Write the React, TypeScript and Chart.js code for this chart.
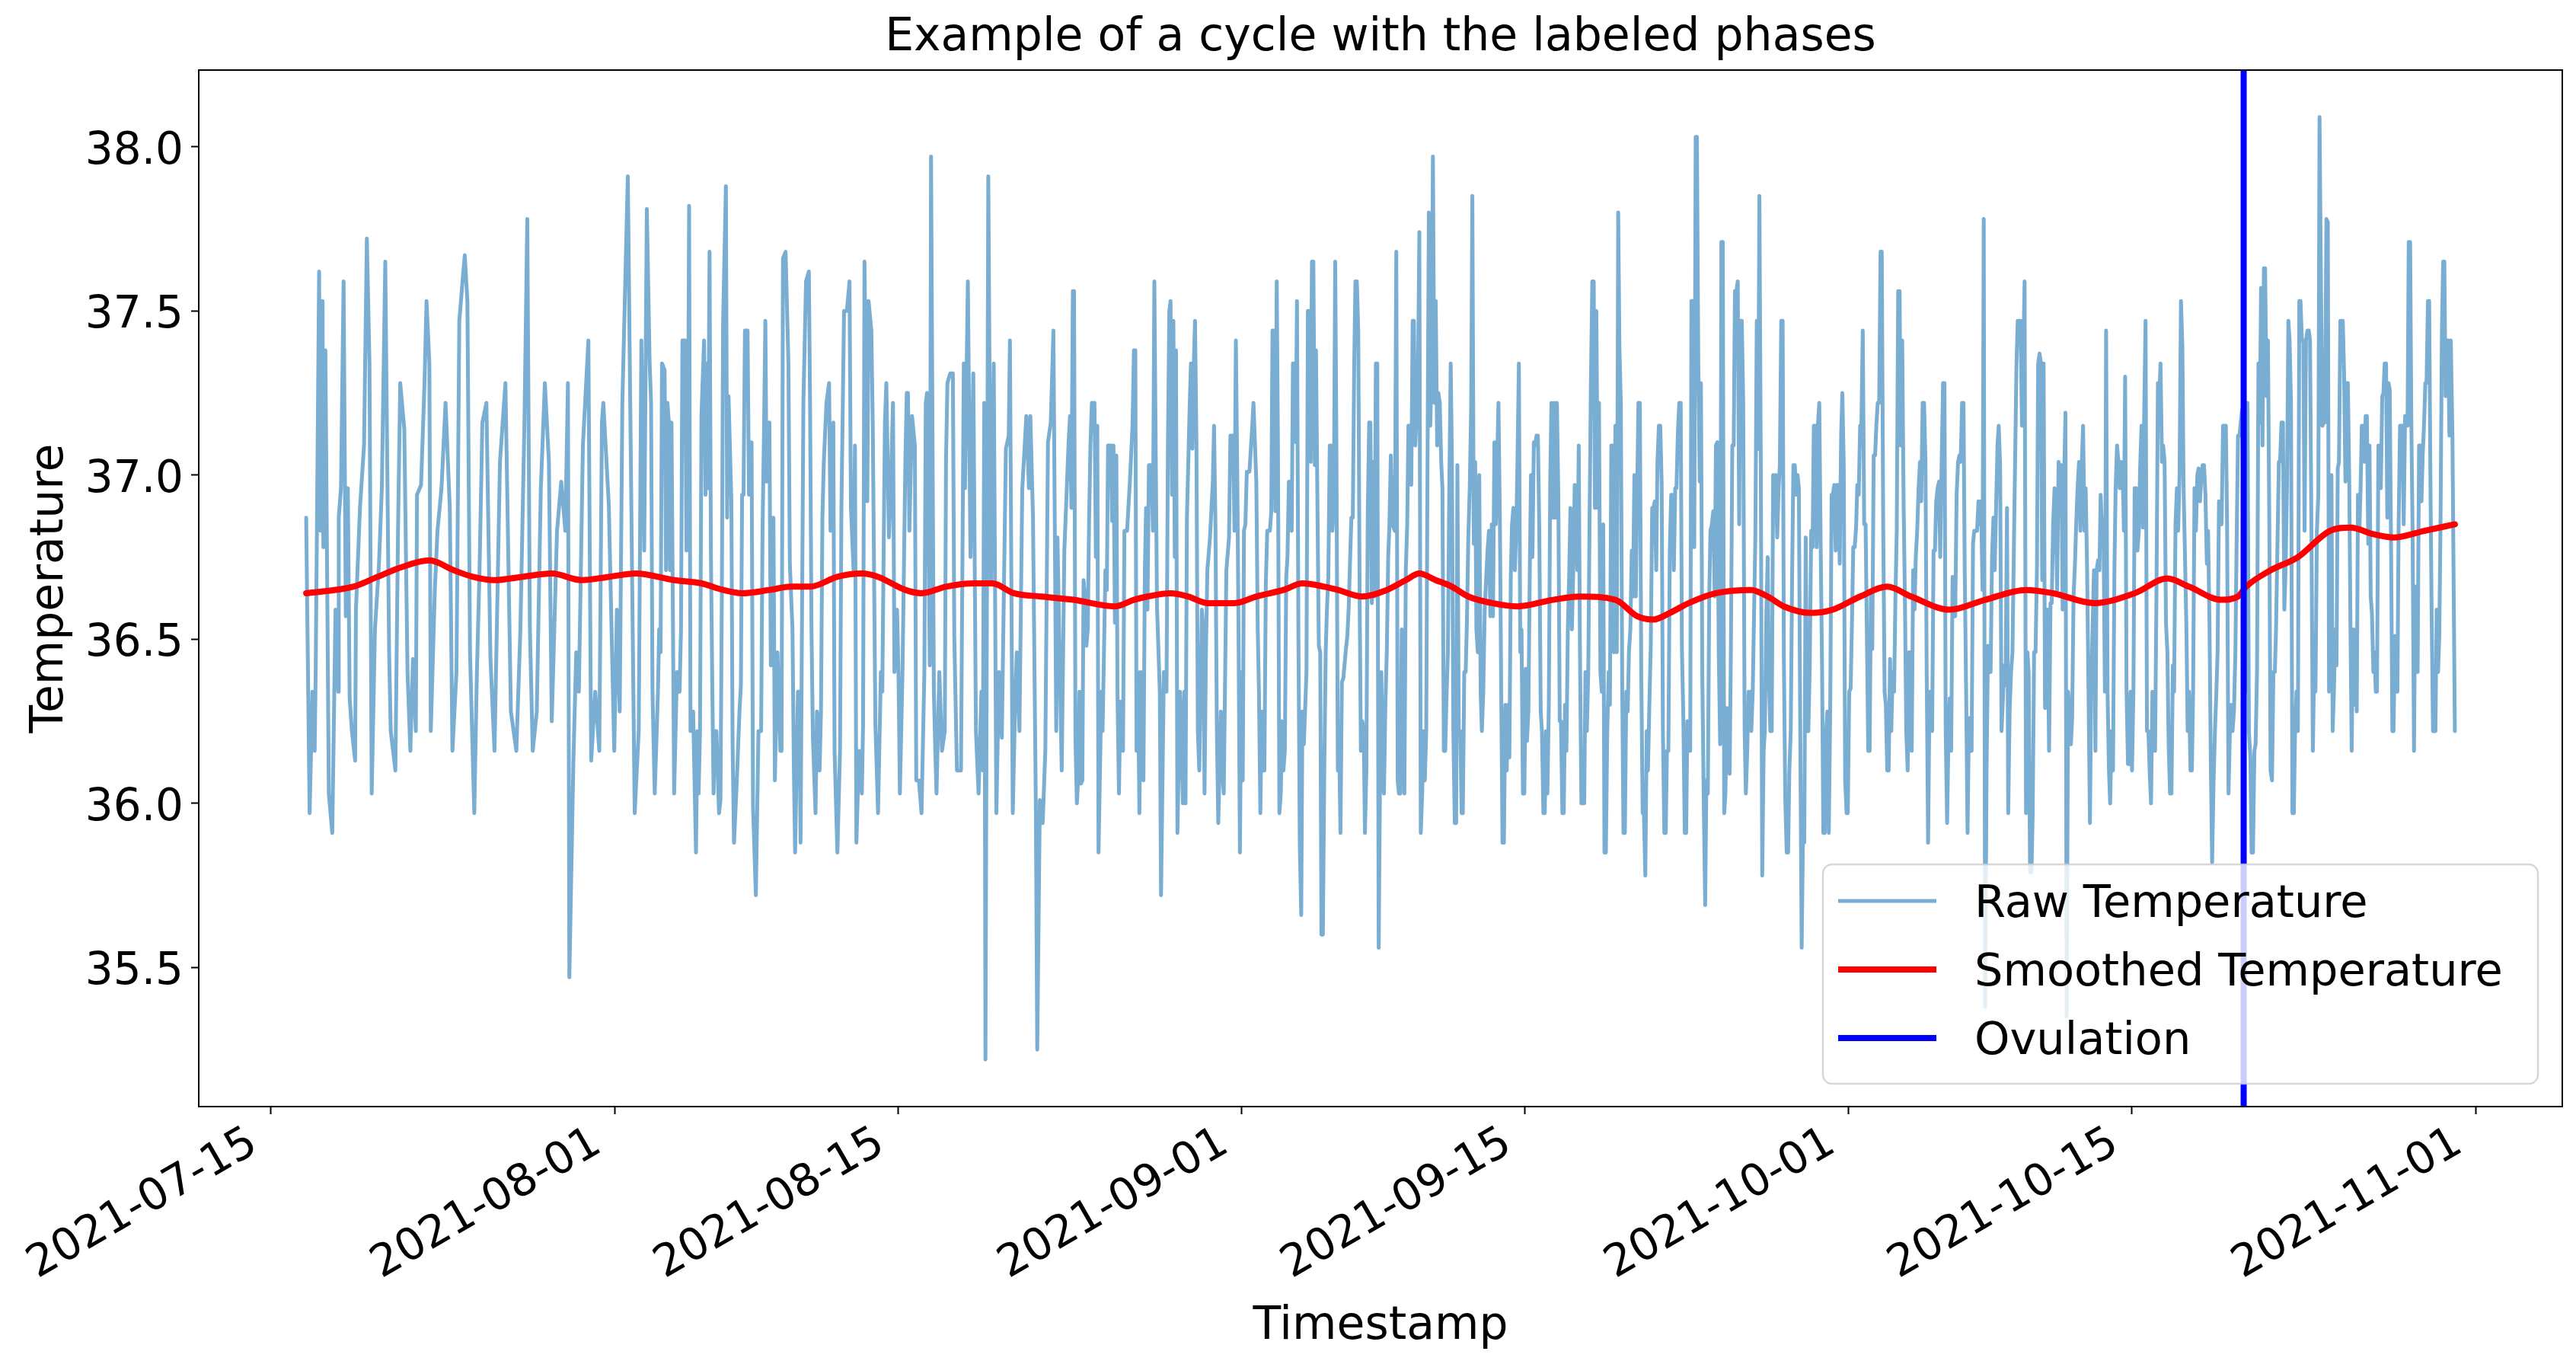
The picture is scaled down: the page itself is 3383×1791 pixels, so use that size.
import React, { useEffect, useRef } from 'react';
import { Chart, registerables } from 'chart.js';

Chart.register(...registerables);

const W = 3383;
const H = 1791;
const FONT = "'DejaVu Sans', sans-serif";

// ---- data ----
const baseDate = '2021-07-15';
const xTickDates = ['2021-07-15', '2021-08-01', '2021-08-15', '2021-09-01', '2021-09-15', '2021-10-01', '2021-10-15', '2021-11-01'];
const yTickValues = [35.5, 36.0, 36.5, 37.0, 37.5, 38.0];
const seriesLabels = ['Raw Temperature', 'Smoothed Temperature', 'Ovulation'];
const titleText = 'Example of a cycle with the labeled phases';
const xTitle = 'Timestamp';
const yTitle = 'Temperature';
const ovulationDay = 97.53; // days after 2021-07-15

// raw readings: [days after 2021-07-15, temperature]
const rawReadings: [number, number][] = [
  [1.75,36.87],[1.92,35.97],[2.06,36.34],[2.17,36.16],[2.22,36.40],[2.39,37.62],[2.46,36.83],[2.56,37.53],[2.60,36.78],[2.70,37.38],
  [2.87,36.03],[3.04,35.91],[3.20,36.59],[3.34,36.34],[3.36,36.87],[3.47,36.96],[3.60,37.59],[3.71,36.57],[3.81,36.96],[3.90,36.32],
  [4.01,36.22],[4.17,36.13],[4.21,36.59],[4.41,36.90],[4.61,37.09],[4.75,37.72],[4.88,37.34],[4.99,36.03],[5.15,36.53],[5.35,36.73],
  [5.49,36.96],[5.66,37.65],[5.85,36.46],[5.93,36.22],[6.16,36.10],[6.29,36.83],[6.40,37.28],[6.60,37.14],[6.76,36.40],[6.90,36.16],
  [7.03,36.44],[7.17,36.22],[7.23,36.94],[7.43,36.97],[7.60,37.28],[7.70,37.53],[7.84,37.34],[7.91,36.22],[8.11,36.65],[8.24,36.83],
  [8.44,36.96],[8.64,37.22],[8.85,36.90],[8.98,36.16],[9.18,36.40],[9.32,37.47],[9.48,37.59],[9.59,37.67],[9.72,37.53],[9.85,36.46],
  [10.06,35.97],[10.19,36.40],[10.32,36.71],[10.46,37.16],[10.66,37.22],[10.86,36.44],[11.06,36.16],[11.33,37.04],[11.60,37.28],[11.87,36.28],
  [12.14,36.16],[12.34,36.53],[12.54,37.16],[12.68,37.78],[12.81,36.53],[12.95,36.16],[13.15,36.28],[13.35,36.96],[13.55,37.28],[13.75,37.04],
  [13.89,36.25],[14.15,36.83],[14.36,36.98],[14.56,36.83],[14.69,37.28],[14.76,35.47],[14.96,36.13],[15.10,36.46],[15.23,36.34],[15.43,37.09],
  [15.70,37.41],[15.84,36.13],[16.04,36.34],[16.24,36.16],[16.37,37.16],[16.44,37.22],[16.71,36.91],[16.98,36.16],[17.11,36.59],[17.25,36.28],
  [17.38,37.22],[17.65,37.91],[17.78,37.16],[17.99,35.97],[18.19,36.22],[18.32,37.41],[18.46,36.77],[18.59,37.81],
  [18.73,37.34],[18.80,37.22],[18.87,36.34],[18.98,36.03],[19.07,36.20],[19.14,36.34],[19.20,36.53],[19.27,36.46],[19.34,37.34],[19.47,37.32],
  [19.54,36.71],[19.61,37.22],[19.68,37.16],[19.74,36.71],[19.81,37.16],[19.88,36.57],[19.94,36.03],[20.08,36.40],[20.21,36.34],[20.28,36.53],
  [20.35,37.41],[20.48,37.41],[20.55,36.77],[20.62,36.96],[20.68,37.82],[20.75,36.22],[20.88,36.28],[21.02,35.85],[21.09,36.22],[21.15,36.03],
  [21.22,36.22],[21.29,37.18],[21.42,37.41],[21.49,36.94],[21.56,37.34],[21.62,36.96],[21.69,37.68],[21.76,36.75],[21.83,36.34],[21.89,36.03],
  [21.96,36.22],[22.03,36.22],[22.16,35.97],[22.23,36.01],[22.30,36.65],[22.36,37.47],[22.50,37.88],[22.56,36.87],[22.63,37.24],[22.77,36.92],
  [22.83,36.18],[22.90,35.88],[23.04,36.07],[23.17,36.28],[23.24,36.36],[23.30,36.94],[23.37,36.94],[23.44,37.44],[23.57,37.44],[23.64,36.94],
  [23.77,37.10],[23.84,35.99],[23.98,35.72],[24.11,36.22],[24.24,36.22],[24.31,36.83],[24.38,37.12],[24.45,37.47],[24.51,36.98],[24.65,37.16],
  [24.72,36.42],[24.85,36.87],[24.92,36.07],[25.05,36.46],[25.19,36.16],[25.25,36.16],[25.32,37.66],[25.45,37.68],[25.59,37.34],[25.66,36.73],
  [25.79,36.53],[25.86,36.10],[25.92,35.85],[26.06,36.34],[26.13,36.34],[26.19,35.88],[26.33,37.22],[26.46,37.59],[26.60,37.62],[26.66,37.22],
  [26.73,36.53],[26.80,36.20],[26.93,35.97],[27.00,36.28],[27.13,36.10],[27.20,36.28],[27.27,36.87],[27.34,37.04],[27.47,37.22],[27.60,37.28],
  [27.67,36.83],[27.74,37.15],[27.81,37.16],[27.87,36.16],[28.01,35.85],[28.14,36.16],[28.21,36.90],[28.34,37.50],[28.48,37.50],[28.61,37.59],
  [28.68,36.90],[28.81,36.71],[28.88,37.09],[28.95,35.88],[29.08,36.16],[29.22,36.03],[29.28,36.24],[29.35,37.65],[29.49,36.92],[29.55,37.53],
  [29.69,37.44],[29.76,37.15],[29.89,36.24],[30.02,35.97],[30.16,36.40],[30.23,36.34],[30.36,37.16],[30.43,37.28],[30.56,36.81],[30.63,36.92],
  [30.76,37.22],[30.83,36.40],[30.96,36.59],[31.03,36.40],[31.10,36.03],[31.23,36.40],[31.37,37.04],[31.44,37.25],[31.50,37.25],[31.57,36.83],
  [31.70,37.18],[31.84,37.09],[31.91,36.07],[32.04,36.07],[32.17,35.97],[32.31,36.40],[32.38,37.22],[32.44,37.25],[32.58,36.42],[32.64,37.97],
  [32.78,36.34],[32.85,36.16],[32.91,36.03],[33.05,36.40],[33.18,36.16],[33.32,36.22],[33.38,37.04],[33.45,37.28],[33.59,37.31],[33.72,37.31],
  [33.79,36.51],[33.92,36.10],[34.12,36.10],[34.26,37.34],[34.32,36.96],[34.46,37.59],[34.59,36.75],[34.73,37.31],[34.86,36.22],[34.99,36.03],
  [35.13,36.34],[35.20,36.10],[35.27,37.22],[35.33,35.22],[35.47,37.91],[35.60,36.67],[35.74,37.34],[35.87,35.97],[36.00,36.40],[36.14,36.20],
  [36.34,37.08],[36.48,37.12],[36.54,37.41],[36.68,35.97],[36.81,36.34],[36.88,36.46],[37.01,36.22],[37.15,36.96],[37.28,37.10],[37.35,37.18],
  [37.48,36.96],[37.55,37.18],[37.68,36.87],[37.82,36.00],[37.89,35.25],[38.02,36.01],[38.16,35.94],[38.29,36.16],[38.42,37.10],[38.56,37.16],
  [38.69,37.44],[38.83,36.22],[38.89,36.81],[39.10,36.10],[39.23,36.77],
  [39.44,37.10],[39.51,37.18],[39.58,36.90],[39.65,37.56],[39.71,37.56],[39.78,36.19],[39.85,36.00],[39.91,36.07],[39.98,36.34],[40.05,36.06],
  [40.12,36.07],[40.18,36.68],[40.25,36.63],[40.32,36.48],[40.39,36.53],[40.45,36.85],[40.52,37.09],[40.59,37.22],[40.72,37.22],[40.79,36.75],
  [40.86,37.15],[40.92,35.85],[41.06,36.34],[41.12,36.22],[41.26,36.71],[41.33,36.65],[41.39,37.09],[41.53,37.09],[41.59,36.86],[41.66,37.09],
  [41.73,36.55],[41.80,37.06],[41.86,36.32],[41.93,36.03],[42.00,36.31],[42.13,36.16],[42.20,36.83],[42.33,36.83],[42.47,36.98],[42.60,37.15],
  [42.67,37.38],[42.74,37.38],[42.80,36.16],[42.87,36.40],[42.94,35.97],[43.01,36.40],[43.14,36.07],[43.21,36.71],[43.27,36.90],[43.34,36.59],
  [43.41,37.03],[43.54,37.03],[43.61,36.83],[43.68,37.59],[43.81,36.60],[43.95,36.34],[44.01,35.72],[44.15,36.40],[44.28,36.34],[44.35,37.09],
  [44.42,37.50],[44.48,37.53],[44.55,36.94],[44.62,37.47],[44.69,36.75],[44.75,37.38],[44.82,35.91],[44.95,36.34],[45.09,36.00],[45.16,36.34],
  [45.22,36.00],[45.29,36.87],[45.43,37.22],[45.49,37.34],[45.56,37.08],[45.63,37.34],[45.69,37.47],[45.76,37.10],[45.83,36.22],[45.90,36.10],
  [46.03,36.59],[46.10,36.53],[46.16,36.03],[46.23,36.46],[46.30,36.71],[46.43,36.81],[46.57,36.98],[46.63,37.15],[46.70,36.85],[46.77,36.22],
  [46.84,35.94],[46.97,36.28],[47.04,36.10],[47.11,36.03],[47.24,36.71],[47.37,36.81],[47.44,37.12],[47.58,37.12],[47.64,36.83],[47.71,37.41],
  [47.78,36.99],[47.84,36.53],[47.91,35.85],[47.98,36.40],[48.05,36.07],[48.11,36.83],[48.18,36.85],[48.25,37.01],[48.38,37.01],[48.52,37.15],
  [48.58,37.22],[48.72,36.98],[48.79,36.53],[48.85,36.34],[48.92,35.97],[48.99,36.28],[49.05,36.10],[49.12,36.10],[49.19,36.67],[49.26,36.83],
  [49.39,36.83],[49.46,36.89],[49.52,37.44],[49.59,37.44],[49.66,36.89],[49.73,37.59],[49.79,37.09],[49.86,35.97],[49.93,36.03],[49.99,36.25],
  [50.06,36.10],[50.13,36.16],[50.20,36.69],[50.26,36.75],[50.33,36.98],[50.40,36.98],[50.47,36.83],[50.53,37.34],[50.60,37.34],[50.67,37.10],
  [50.73,37.53],[50.80,36.53],[50.87,35.87],[50.94,35.66],[51.00,36.28],[51.07,36.18],[51.20,36.40],[51.27,37.50],[51.34,37.50],[51.41,37.04],
  [51.47,37.65],[51.54,37.65],[51.61,37.03],[51.67,37.38],[51.74,36.92],[51.81,36.48],[51.88,36.46],[51.94,35.60],[52.01,35.60],[52.08,36.10],
  [52.15,36.46],[52.21,36.59],[52.28,36.69],[52.35,37.09],[52.41,37.09],[52.48,36.83],[52.55,36.90],[52.62,37.65],[52.68,37.09],[52.75,36.10],
  [52.82,36.16],[52.88,35.91],[52.95,36.37],[53.02,36.38],[53.15,36.47],[53.22,36.51],[53.29,36.60],[53.35,36.73],[53.42,36.87],[53.49,36.87],
  [53.56,37.34],[53.62,37.59],[53.69,37.59],[53.76,37.44],[53.83,36.61],[53.89,36.16],[53.96,36.25],[54.03,36.22],[54.09,35.91],[54.16,36.10],
  [54.23,36.89],[54.30,37.16],[54.36,37.16],[54.43,36.61],[54.50,37.04],[54.56,36.63],[54.63,37.34],[54.70,37.34],[54.77,35.56],[54.83,36.03],
  [54.90,36.40],[54.97,36.07],[55.03,36.03],[55.10,36.30],[55.17,36.46],[55.24,36.75],[55.30,36.85],[55.37,37.06],[55.44,36.85],[55.57,36.83],
  [55.64,37.68],[55.71,36.07],[55.77,36.03],[55.84,36.03],[55.91,36.53],[55.98,36.40],[56.04,36.03],[56.11,36.71],[56.18,36.85],[56.24,37.15],
  [56.31,37.15],[56.38,36.97],[56.45,37.47],[56.51,37.47],[56.58,37.09],[56.65,37.20],[56.71,37.28],[56.78,37.74],[56.85,35.91],[56.92,36.03],
  [56.98,36.22],[57.05,36.07],[57.12,36.22],[57.19,37.12],[57.25,37.80],[57.32,37.15],[57.39,37.34],[57.45,37.97],[57.52,37.22],[57.59,37.53],
  [57.66,37.09],[57.72,37.25],[57.79,37.22],[57.86,37.04],[57.92,36.96],[57.99,36.16],[58.06,36.16],[58.13,36.34],[58.19,36.46],[58.26,36.96],
  [58.33,37.34],[58.39,37.04],[58.46,36.22],[58.53,35.94],[58.60,35.94],[58.66,37.03],[58.73,36.22],[58.80,36.22],[58.87,35.97],[58.93,35.97],
  [59.00,36.40],[59.07,36.40],[59.13,36.55],[59.20,36.81],[59.27,36.96],[59.34,37.20],[59.40,37.85],[59.47,36.79],[59.54,37.04],[59.60,36.53],
  [59.67,36.46],[59.74,37.00],[59.81,36.34],[59.87,36.22],[59.94,36.34],[60.01,36.59],
  [60.15,36.77],[60.22,36.83],[60.29,36.57],[60.36,36.85],[60.42,36.57],[60.49,37.10],[60.56,36.85],[60.69,37.22],[60.76,36.87],[60.83,36.32],
  [60.89,35.88],[60.96,35.88],[61.03,36.30],[61.10,36.10],[61.16,36.30],[61.23,36.14],[61.30,36.69],[61.36,36.85],[61.43,36.90],[61.50,36.71],
  [61.57,36.83],[61.63,37.04],[61.70,37.34],[61.77,36.46],[61.83,36.53],[61.90,36.03],[61.97,36.03],[62.04,36.41],[62.10,36.19],[62.17,36.28],
  [62.24,36.71],[62.30,37.00],[62.37,36.75],[62.44,37.10],[62.51,37.09],[62.57,37.12],[62.64,37.12],[62.71,36.83],[62.78,36.28],[62.84,36.22],
  [62.91,35.97],[62.98,35.97],[63.04,36.22],[63.11,36.03],[63.18,36.30],[63.25,36.98],[63.31,37.22],[63.38,36.87],[63.45,37.22],[63.51,36.87],
  [63.58,37.22],[63.65,36.94],[63.72,36.25],[63.78,36.25],[63.85,35.97],[63.92,35.97],[63.98,36.30],[64.05,36.16],[64.12,36.53],[64.19,36.71],
  [64.25,36.90],[64.32,36.53],[64.39,36.71],[64.46,36.97],[64.52,36.96],[64.59,36.71],[64.66,37.09],[64.72,36.46],[64.79,36.00],[64.86,36.00],
  [64.93,36.00],[64.99,36.40],[65.06,36.22],[65.13,36.40],[65.19,36.83],[65.26,37.28],[65.33,37.59],[65.40,37.59],[65.46,36.90],[65.53,37.50],
  [65.60,36.90],[65.66,37.22],[65.73,36.40],[65.80,36.34],[65.87,36.85],[65.93,35.85],[66.00,35.85],[66.07,36.22],[66.14,36.40],[66.20,36.30],
  [66.27,37.09],[66.34,37.09],[66.40,36.46],[66.47,37.15],[66.54,36.46],[66.61,37.80],[66.67,37.39],[66.74,37.22],[66.81,36.34],[66.87,35.91],
  [66.94,35.91],[67.01,36.34],[67.08,36.28],[67.14,36.46],[67.21,36.53],[67.28,36.77],[67.34,36.63],[67.41,37.00],[67.48,36.63],[67.55,36.96],
  [67.61,37.22],[67.68,37.22],[67.75,36.40],[67.82,35.97],[67.88,35.97],[67.95,35.78],[68.02,36.22],[68.08,36.10],[68.15,36.30],[68.22,36.48],
  [68.29,36.90],[68.35,36.90],[68.42,36.92],[68.49,36.71],[68.55,37.04],[68.62,37.15],[68.69,37.15],[68.76,36.97],[68.82,36.22],[68.89,35.91],
  [68.96,35.91],[69.02,36.16],[69.09,36.16],[69.16,36.77],[69.23,36.94],[69.29,36.94],[69.36,36.71],[69.43,36.96],[69.49,36.96],[69.56,37.13],
  [69.63,37.22],[69.70,37.22],[69.76,36.47],[69.83,36.26],[69.90,35.91],[69.97,35.91],[70.03,36.25],[70.10,36.25],[70.17,36.16],[70.23,37.53],
  [70.30,37.53],[70.37,36.78],[70.44,38.03],[70.50,38.03],[70.57,37.34],[70.64,36.98],[70.70,37.28],[70.77,36.38],[70.84,36.00],[70.91,35.69],
  [70.97,36.07],[71.04,36.03],[71.11,36.63],[71.17,36.83],[71.24,36.85],[71.31,36.89],[71.38,36.63],[71.44,37.09],[71.51,37.10],[71.58,36.46],
  [71.65,36.18],[71.71,37.71],[71.78,37.71],[71.85,35.97],[71.91,36.03],[71.98,36.29],[72.05,36.16],[72.12,36.09],[72.18,36.46],[72.25,37.09],
  [72.32,37.09],[72.38,37.56],[72.45,37.56],[72.52,37.59],[72.59,36.85],[72.65,37.47],[72.72,37.47],[72.79,37.22],[72.86,36.22],[72.92,36.03],
  [72.99,36.16],[73.06,36.34],[73.12,36.34],[73.19,36.22],[73.26,36.34],[73.33,36.59],[73.39,36.81],[73.46,37.47],[73.53,37.08],[73.59,37.85],
  [73.66,37.02],[73.73,35.78],[73.80,36.16],[73.86,36.22],[73.93,36.57],[74.00,36.75],[74.06,36.38],[74.13,36.22],[74.20,36.22],[74.27,37.00],
  [74.33,36.94],[74.40,37.00],[74.47,36.81],[74.54,36.96],[74.60,37.03],[74.67,37.47],[74.74,37.47],[74.80,36.44],[74.87,36.01],[74.94,35.85],
  [75.01,35.85],[75.07,36.10],[75.14,36.22],[75.21,36.71],[75.27,37.03],[75.34,37.03],[75.41,36.94],[75.48,37.00],[75.54,36.96],[75.61,36.22],
  [75.68,35.56],[75.74,35.88],[75.81,35.88],[75.88,36.81],[75.95,36.22],[76.01,36.22],[76.08,36.42],[76.15,36.83],[76.22,36.78],[76.28,37.15],
  [76.35,37.15],[76.42,36.78],[76.48,37.15],[76.55,37.22],[76.62,36.78],[76.69,36.40],[76.75,35.91],[76.82,35.91],[76.89,36.22],[76.95,36.28],
  [77.02,35.91],[77.09,36.28],[77.16,36.94],[77.22,36.94],[77.29,36.97],[77.36,36.77],[77.42,36.97],[77.49,36.97],[77.56,36.73],[77.63,37.12],
  [77.69,37.25],[77.76,37.03],[77.83,36.07],[77.90,35.97],[77.96,35.97],[78.03,36.34],[78.10,36.35],[78.16,36.53],[78.23,36.78],[78.30,36.78],
  [78.37,36.84],[78.43,36.97],[78.50,36.94],[78.57,37.15],[78.63,37.15],[78.70,37.44],[78.77,36.85],[78.84,36.85],[78.90,36.53],[78.97,36.16],
  [79.04,36.16],[79.10,36.63],[79.17,36.47],[79.24,37.06],[79.31,37.06],[79.37,37.15],[79.44,37.22],[79.51,37.22],[79.58,37.68],[79.64,37.68],
  [79.71,36.85],[79.78,36.34],[79.84,36.30],[79.91,36.10],[79.98,36.10],[80.05,36.44],[80.11,36.22],[80.18,36.40],[80.25,36.34],[80.31,36.61],
  [80.38,36.83],[80.45,37.56],[80.52,37.56],[80.58,37.09],[80.65,37.41],[80.72,36.91],[80.79,36.59],[80.85,36.22],[80.92,36.10],[80.99,36.46],
  [81.06,36.46],[81.12,36.16],[81.19,36.71],[81.26,36.59],[81.32,36.75],[81.39,36.83],[81.46,36.96],[81.53,37.04],[81.59,36.92],[81.66,37.22],
  [81.73,37.22],[81.80,37.04],[81.86,36.40],[81.93,35.88],[82.00,36.34],[82.06,36.34],[82.13,36.22],[82.20,36.77],[82.27,36.77],[82.33,36.92],
  [82.40,36.96],[82.47,36.98],[82.53,36.75],[82.60,37.04],[82.67,37.28],[82.74,37.28],[82.80,36.22],[82.87,35.94],[82.94,36.22],[83.00,36.32],
  [83.07,36.16],[83.14,36.69],[83.21,36.57],[83.27,36.57],[83.34,36.94],[83.41,37.04],[83.48,37.06],[83.54,37.04],[83.61,37.22],[83.68,37.22],
  [83.74,36.71],[83.81,36.34],[83.88,35.91],[83.95,36.26],[84.01,36.16],[84.08,36.16],[84.15,36.79],[84.21,36.83],[84.28,36.83],[84.35,36.83],
  [84.42,36.92],[84.48,36.85],[84.55,36.92],[84.62,36.65],[84.68,37.78],[84.75,35.38],[84.82,36.10],[84.89,36.48],[84.95,36.40],[85.02,36.40],
  [85.09,36.75],[85.16,36.87],[85.22,36.71],[85.29,36.90],[85.36,37.09],[85.42,37.15],[85.49,37.03],[85.56,36.22],[85.63,36.32],[85.69,36.42],
  [85.76,36.36],[85.83,36.90],[85.89,35.97],[85.96,36.28],[86.03,36.40],[86.10,36.46],[86.16,36.73],[86.23,37.04],[86.30,37.34],[86.36,37.47],
  [86.43,37.47],[86.50,37.47],[86.57,37.15],[86.63,37.34],[86.70,37.59],[86.77,35.97],[86.84,36.46],[86.90,36.40],[86.97,35.79],[87.04,35.79],
  [87.10,35.97],[87.17,36.46],[87.24,36.46],[87.31,36.71],[87.37,37.34],[87.44,37.37],[87.51,37.34],[87.57,36.68],[87.64,37.34],[87.71,36.29],
  [87.78,36.59],[87.84,36.59],[87.91,36.16],[87.98,36.61],[88.04,36.61],[88.11,36.85],[88.18,36.96],[88.25,36.85],[88.31,36.65],[88.38,37.04],
  [88.45,37.02],[88.52,37.03],[88.58,36.59],[88.65,36.98],[88.72,37.19],[88.78,35.35],[88.85,36.34],[88.92,36.28],[88.99,36.18],[89.05,36.26],
  [89.12,36.63],[89.19,36.73],[89.25,36.85],[89.32,36.96],[89.39,37.04],[89.46,36.83],[89.52,37.02],[89.59,37.15],[89.66,36.83],[89.72,36.96],
  [89.79,36.71],[89.86,36.34],[89.93,35.94],[89.99,36.34],[90.06,36.53],[90.13,36.71],[90.20,36.16],[90.26,36.71],[90.33,36.74],[90.40,36.71],
  [90.46,36.94],[90.53,36.83],[90.60,36.83],[90.67,36.34],[90.73,37.44],[90.80,36.34],[90.87,36.10],[90.93,36.00],[91.00,36.22],[91.07,36.10],
  [91.14,36.71],[91.20,36.96],[91.27,37.09],[91.34,37.04],[91.40,36.96],[91.47,37.04],[91.54,37.03],[91.61,36.83],[91.67,37.30],[91.74,36.34],
  [91.81,36.12],[91.88,36.12],[91.94,36.34],[92.01,36.10],[92.08,36.34],[92.14,36.96],[92.21,36.96],[92.28,36.77],[92.35,36.83],[92.41,37.02],
  [92.48,37.15],[92.55,36.84],[92.61,37.18],[92.68,37.47],[92.75,36.22],[92.82,36.22],[92.88,36.10],[92.95,36.00],[93.02,36.34],[93.08,36.22],
  [93.15,36.16],[93.22,36.65],[93.29,37.28],[93.35,37.22],[93.42,37.34],[93.49,37.04],[93.55,37.09],[93.62,37.04],[93.69,36.55],[93.76,36.46],
  [93.82,36.18],[93.89,36.03],[93.96,36.03],[94.03,36.42],[94.09,36.34],[94.16,36.85],[94.23,36.96],[94.29,36.83],[94.36,37.00],[94.43,37.53],
  [94.50,37.39],[94.56,36.96],[94.63,36.75],[94.70,36.53],[94.76,36.22],[94.83,36.34],[94.90,36.10],[94.97,36.10],[95.03,36.34],[95.10,36.96],
  [95.17,36.83],[95.24,37.00],[95.30,37.02],[95.37,36.92],[95.44,37.00],[95.50,37.03],[95.57,37.03],[95.64,36.94],[95.71,36.73],[95.77,36.83],
  [95.84,36.55],[95.91,36.10],[95.97,35.82],[96.04,36.06],[96.11,36.22],[96.18,36.34],[96.24,36.46],[96.31,36.92],[96.38,36.90],[96.44,36.85],
  [96.51,37.15],[96.58,37.15],[96.65,37.15],[96.71,36.85],[96.78,36.03],[96.85,36.22],[96.91,36.30],[96.98,36.22],[97.05,36.28],[97.12,36.46],
  [97.18,36.79],[97.25,37.12],[97.32,37.12],[97.45,37.20],[97.59,36.75],[97.65,36.34],[97.72,37.22],[97.79,36.22],[97.86,36.14],[97.92,35.85],
  [97.99,35.85],[98.06,36.16],[98.12,36.18],[98.19,36.40],[98.26,37.34],[98.33,37.16],[98.39,37.57],[98.46,37.09],[98.53,37.63],[98.59,37.63],
  [98.66,37.24],[98.73,37.41],[98.80,36.83],[98.86,36.10],[98.93,36.07],[99.00,36.40],[99.07,36.40],[99.13,36.53],[99.20,36.79],[99.27,37.04],
  [99.33,37.04],[99.40,37.16],[99.47,37.16],[99.54,36.59],[99.60,36.71],[99.67,36.96],[99.74,37.47],[99.80,37.41],[99.87,37.22],[99.94,35.97],
  [100.01,35.97],[100.07,36.22],[100.14,36.34],[100.21,36.22],[100.28,37.53],[100.34,37.53],[100.41,37.41],[100.48,37.41],[100.54,36.83],[100.61,37.41],
  [100.68,37.44],[100.75,37.44],[100.81,37.41],[100.88,36.83],[100.95,36.16],[101.01,36.40],[101.08,36.34],[101.15,36.83],[101.22,36.94],[101.28,38.09],
  [101.35,37.59],[101.42,37.15],[101.48,37.16],[101.55,37.16],[101.62,37.78],[101.69,37.77],[101.75,36.34],
  [101.87,37.00],[101.93,36.22],[101.99,36.34],[102.06,36.53],[102.12,36.42],[102.18,37.02],[102.24,37.04],[102.31,37.47],[102.37,37.47],[102.43,37.47],
  [102.49,37.32],[102.56,36.98],[102.62,37.28],[102.68,37.28],[102.75,36.98],[102.81,36.53],[102.87,36.16],[102.93,36.53],[103.00,36.30],[103.06,36.53],
  [103.12,36.28],[103.18,36.94],[103.25,36.83],[103.31,36.96],[103.37,37.15],[103.44,37.15],[103.50,37.04],[103.56,37.18],[103.62,37.18],[103.69,36.79],
  [103.75,37.09],[103.81,36.63],[103.87,36.58],[103.94,36.40],[104.00,36.46],[104.06,36.34],[104.12,36.34],[104.19,37.09],[104.25,37.03],[104.31,36.96],
  [104.38,37.24],[104.44,37.25],[104.50,37.34],[104.57,37.34],[104.63,36.87],[104.69,37.28],[104.75,37.26],[104.82,36.75],[104.88,36.22],[104.94,36.22],
  [105.00,36.51],[105.07,36.34],[105.13,36.34],[105.19,36.85],[105.26,37.15],[105.32,37.15],[105.38,37.15],[105.44,36.85],[105.51,37.18],[105.57,37.18],
  [105.63,37.15],[105.69,37.71],[105.76,37.71],[105.82,37.15],[105.88,36.83],[105.95,36.16],[106.01,36.66],[106.07,36.66],[106.13,36.40],[106.20,37.09],
  [106.26,37.09],[106.32,36.92],[106.38,37.06],[106.45,37.16],[106.51,37.28],[106.57,37.28],[106.64,37.53],[106.70,37.53],[106.76,37.00],[106.82,36.59],
  [106.89,36.22],[106.95,36.22],[107.01,36.22],[107.07,36.59],[107.14,36.40],[107.20,36.51],[107.26,36.85],[107.33,37.44],[107.39,37.65],[107.45,37.65],
  [107.51,37.24],[107.58,37.41],[107.64,37.41],[107.70,37.12],[107.77,37.41],[107.85,37.12],[107.97,36.22],
];

// smoothed temperature: [days after 2021-07-15, temperature]
const smoothReadings: [number, number][] = [
  [1.75,36.64],[4.07,36.66],[5.28,36.69],[6.49,36.72],[7.84,36.74],[9.05,36.71],[9.99,36.69],[11.06,36.68],[12.41,36.69],[13.89,36.70],
  [15.36,36.68],[16.71,36.69],[18.05,36.70],[19.94,36.68],[21.29,36.67],[22.36,36.65],[23.30,36.64],[24.65,36.65],[25.72,36.66],[26.66,36.66],
  [28.01,36.69],[29.22,36.70],[30.02,36.69],[31.37,36.65],[32.17,36.64],[33.38,36.66],[34.73,36.67],[35.67,36.67],[36.74,36.64],[38.09,36.63],
  [39.67,36.62],[41.73,36.60],[42.67,36.62],[43.34,36.63],[44.48,36.64],[45.36,36.63],[46.30,36.61],[47.64,36.61],[48.72,36.63],[50.06,36.65],
  [51.00,36.67],[52.08,36.66],[52.75,36.65],[53.96,36.63],[55.17,36.65],[56.11,36.68],[56.78,36.70],[57.59,36.68],[58.39,36.66],[59.20,36.63],
  [60.38,36.61],[61.63,36.60],[63.38,36.62],[64.72,36.63],[66.47,36.62],[67.55,36.57],[68.35,36.56],[69.16,36.58],[70.10,36.61],[71.44,36.64],
  [73.19,36.65],[74.00,36.63],[74.80,36.60],[76.15,36.58],[77.22,36.59],[78.57,36.63],[79.91,36.66],[81.09,36.63],[83.00,36.59],[84.75,36.62],
  [86.77,36.65],[88.11,36.64],[90.13,36.61],[92.14,36.64],[93.76,36.685],[94.83,36.66],[96.44,36.62],[97.25,36.63],[97.65,36.66],[98.86,36.71],
  [100.21,36.75],[101.79,36.83],[102.81,36.84],[103.94,36.82],[104.94,36.81],[106.45,36.83],[107.97,36.85],
];

// ---- helpers built from the data ----
const dayMs = 86400000;
const dayOf = (d: string) => (Date.parse(d + 'T00:00:00Z') - Date.parse(baseDate + 'T00:00:00Z')) / dayMs;
const xTickDays = xTickDates.map(dayOf);

const rawDaysAll = rawReadings.map((p) => p[0]);
const rawTempsAll = rawReadings.map((p) => p[1]);
const xLo = Math.min(...rawDaysAll);
const xHi = Math.max(...rawDaysAll);
const yLo = Math.min(...rawTempsAll);
const yHi = Math.max(...rawTempsAll);
const xMin = xLo - 0.05 * (xHi - xLo);
const xMax = xHi + 0.05 * (xHi - xLo);
const yMin = yLo - 0.05 * (yHi - yLo);
const yMax = yHi + 0.05 * (yHi - yLo);

const roundRectPath = (ctx: CanvasRenderingContext2D, x: number, y: number, w: number, h: number, r: number) => {
  ctx.beginPath();
  ctx.moveTo(x + r, y);
  ctx.lineTo(x + w - r, y);
  ctx.arcTo(x + w, y, x + w, y + r, r);
  ctx.lineTo(x + w, y + h - r);
  ctx.arcTo(x + w, y + h, x + w - r, y + h, r);
  ctx.lineTo(x + r, y + h);
  ctx.arcTo(x, y + h, x, y + h - r, r);
  ctx.lineTo(x, y + r);
  ctx.arcTo(x, y, x + r, y, r);
  ctx.closePath();
};

const framePlugin = {
  id: 'axesFrame',
  afterDatasetsDraw(chart: any) {
    const { ctx, chartArea: a } = chart;
    ctx.save();
    ctx.strokeStyle = '#000';
    ctx.lineWidth = 2;
    ctx.strokeRect(a.left, a.top, a.right - a.left, a.bottom - a.top);
    ctx.restore();
  },
};

const legendPlugin = {
  id: 'mplLegend',
  afterDraw(chart: any) {
    const { ctx, chartArea: a } = chart;
    const left = a.right - 971;
    const right = a.right - 32;
    const top = a.bottom - 318;
    const bottom = a.bottom - 30;
    ctx.save();
    roundRectPath(ctx, left, top, right - left, bottom - top, 12);
    ctx.fillStyle = 'rgba(255,255,255,0.8)';
    ctx.fill();
    ctx.strokeStyle = 'rgba(204,204,204,0.8)';
    ctx.lineWidth = 2.4;
    ctx.stroke();
    const rows = [a.bottom - 270, a.bottom - 180, a.bottom - 90];
    chart.data.datasets.forEach((ds: any, i: number) => {
      const y = rows[i];
      ctx.beginPath();
      ctx.moveTo(left + 20, y);
      ctx.lineTo(left + 149, y);
      ctx.strokeStyle = ds.borderColor;
      ctx.lineWidth = ds.borderWidth;
      ctx.lineCap = 'butt';
      ctx.stroke();
      ctx.fillStyle = '#000';
      ctx.font = `59px ${FONT}`;
      ctx.textAlign = 'left';
      ctx.textBaseline = 'middle';
      ctx.fillText(ds.label, left + 199, y + 6);
    });
    ctx.restore();
  },
};

export default function App() {
  const ref = useRef<HTMLCanvasElement>(null);

  useEffect(() => {
    const canvas = ref.current;
    if (!canvas) return;
    const raw = rawReadings.map(([x, y]) => ({ x, y }));
    const smooth = smoothReadings.map(([x, y]) => ({ x, y }));
    const ovu = [{ x: ovulationDay, y: yMin }, { x: ovulationDay, y: yMax }];

    const chart = new Chart(canvas, {
      type: 'line',
      data: {
        datasets: [
          {
            label: seriesLabels[0], data: raw, borderColor: 'rgba(31,119,180,0.6)', borderWidth: 5,
            pointRadius: 0, tension: 0, fill: false, order: 3, borderJoinStyle: 'round', borderCapStyle: 'round',
          },
          {
            label: seriesLabels[1], data: smooth, borderColor: '#ff0000', borderWidth: 8,
            pointRadius: 0, cubicInterpolationMode: 'monotone', fill: false, order: 2, borderJoinStyle: 'round', borderCapStyle: 'round',
          },
          {
            label: seriesLabels[2], data: ovu, borderColor: '#0000ff', borderWidth: 8,
            pointRadius: 0, tension: 0, fill: false, order: 1,
          },
        ],
      } as any,
      options: {
        animation: false,
        responsive: false,
        devicePixelRatio: 1,
        events: [],
        layout: { padding: { left: 0, right: 18, top: 0, bottom: 0 } },
        plugins: {
          legend: { display: false },
          tooltip: { enabled: false },
          title: {
            display: true, text: titleText, fullSize: false, color: '#000',
            font: { family: FONT, size: 60, weight: 'normal' }, padding: { top: 14, bottom: 6 },
          },
        },
        scales: {
          x: {
            type: 'linear', position: 'bottom', min: xMin, max: xMax,
            afterBuildTicks: (s: any) => { s.ticks = xTickDays.map((v) => ({ value: v })); },
            afterFit: (s: any) => { s.height = 338; },
            ticks: {
              autoSkip: false, minRotation: 30, maxRotation: 30, padding: 4, labelOffset: -22, color: '#000',
              font: { family: FONT, size: 58 },
              callback: (v: any) => {
                const i = xTickDays.findIndex((d) => Math.abs(d - Number(v)) < 1e-6);
                return i >= 0 ? xTickDates[i] : '';
              },
            },
            grid: { display: true, drawOnChartArea: false, drawTicks: true, tickLength: 10, tickColor: '#000', tickWidth: 2 },
            border: { display: false },
            title: { display: true, text: xTitle, color: '#000', font: { family: FONT, size: 60 }, padding: { top: 0, bottom: 13 } },
          },
          y: {
            type: 'linear', position: 'left', min: yMin, max: yMax,
            afterBuildTicks: (s: any) => { s.ticks = yTickValues.map((v) => ({ value: v })); },
            afterFit: (s: any) => { s.width = 261; },
            ticks: {
              padding: 10, labelOffset: 7, color: '#000', font: { family: FONT, size: 58 },
              callback: (v: any) => Number(v).toFixed(1),
            },
            grid: { display: true, drawOnChartArea: false, drawTicks: true, tickLength: 10, tickColor: '#000', tickWidth: 2 },
            border: { display: false },
            title: { display: true, text: yTitle, color: '#000', font: { family: FONT, size: 60 }, padding: { top: 30, bottom: 0 } },
          },
        },
      } as any,
      plugins: [framePlugin, legendPlugin],
    });
    return () => chart.destroy();
  }, []);

  return (
    <div style={{ position: 'absolute', left: 0, top: 0, width: W, height: H, background: '#fff' }}>
      <canvas ref={ref} width={W} height={H} style={{ display: 'block', width: W, height: H }} />
    </div>
  );
}
